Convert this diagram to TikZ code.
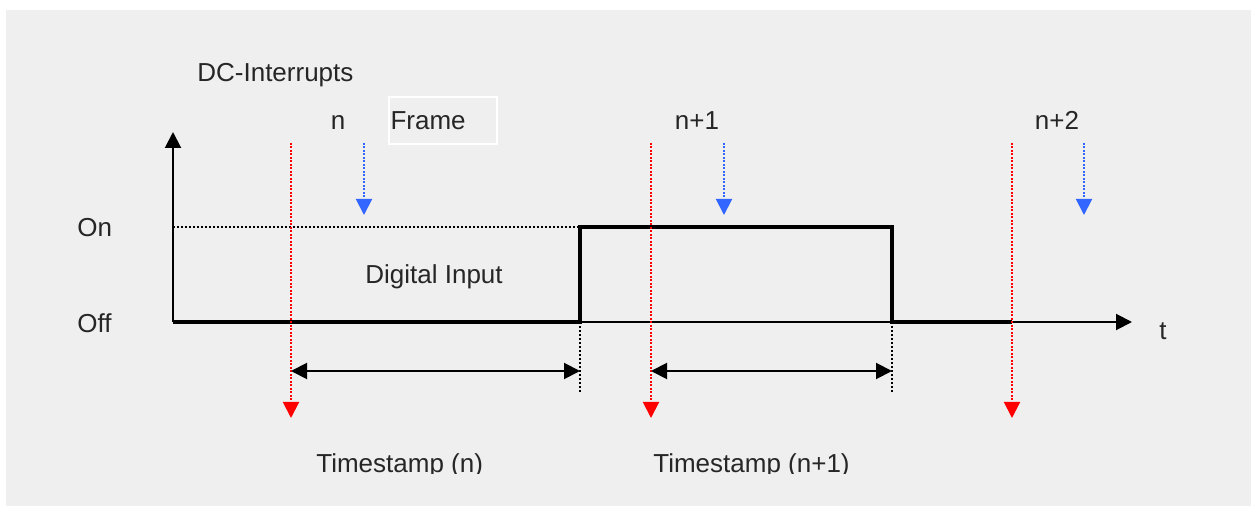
\documentclass[tikz,border=0pt]{standalone}
\usepackage{fontspec}
\setmainfont{Liberation Sans}
\usetikzlibrary{arrows.meta}
\definecolor{bggray}{HTML}{EFEFEF}
\definecolor{irqblue}{HTML}{3366FF}
\definecolor{txtgray}{HTML}{262626}

\begin{document}
\begin{tikzpicture}[x=0.2mm,y=-0.2mm,
  every node/.style={font=\fontsize{14.8}{17}\selectfont,text=txtgray,inner sep=0pt},
  axis/.style={line width=0.4mm,-{Triangle[width=3.2mm,length=3.2mm]}},
  signal/.style={line width=0.7mm},
  irq/.style={red,line width=0.4mm,dash pattern=on 0.4mm off 0.3mm,-{Triangle[width=3.2mm,length=3.2mm]}},
  frm/.style={irqblue,line width=0.4mm,dash pattern=on 0.4mm off 0.3mm,-{Triangle[width=3.2mm,length=3.2mm]}},
  span/.style={line width=0.4mm,{Triangle[width=3.2mm,length=3.2mm]}-{Triangle[width=3.2mm,length=3.2mm]}},
  edgemark/.style={line width=0.4mm,dash pattern=on 0.4mm off 0.4mm},
  fbox/.style={draw=white,line width=0.4mm,minimum width=21.6mm,minimum height=9.4mm,text width=21mm,inner sep=0.3mm,align=left}]
\useasboundingbox (0,0) rectangle (1251,506);
\fill[bggray] (6,10) rectangle (1251,506);

% axes
\coordinate (O) at (173,322);
\coordinate (ytop) at (173,132);
\coordinate (xend) at (1132,322);
\coordinate (on) at (173,227);
\draw[axis] (O) -- (ytop);
\draw[axis] (O) -- (xend);
\node[anchor=base west] (lblon) at (77,237) {On};
\node[anchor=base west] (lbloff) at (77,333) {Off};
\node[anchor=base] (lblt) at (1163,340) {t};
\node[anchor=base west] (lbldc) at (197,82) {DC-Interrupts};

% digital input
\coordinate (rise) at (580,322);
\coordinate (fall) at (892,322);
\coordinate (sigend) at (1012,322);
\draw[edgemark] (on) -- (rise |- on);
\draw[signal] (O) -- (rise) -- (rise |- on) -- (fall |- on) -- (fall) -- (sigend);
\node[anchor=base west] (lbldi) at (365,284) {Digital Input};

% interrupts
\foreach \x/\n in {291/a,651/b,1012/c}{
  \coordinate (irq\n top) at (\x,143);
  \coordinate (irq\n bot) at (\x,418);
  \draw[irq] (irq\n top) -- (irq\n bot);
}
\foreach \x/\n in {364/a,724/b,1084/c}{
  \coordinate (frm\n top) at (\x,143);
  \coordinate (frm\n bot) at (\x,215);
  \draw[frm] (frm\n top) -- (frm\n bot);
}
\node[anchor=base] (lbln) at (338,130) {n};
\node[anchor=base] (lblna) at (697,130) {n+1};
\node[anchor=base] (lblnb) at (1057,130) {n+2};
\node[fbox,anchor=north west] (frame) at (388,96) {Frame};

% timestamps
\coordinate (risebot) at (580,393);
\coordinate (fallbot) at (892,393);
\draw[edgemark] (rise) -- (risebot);
\draw[edgemark] (fall) -- (fallbot);
\coordinate (spana) at (291,371);
\coordinate (spanb) at (651,371);
\draw[span] (spana) -- (spana -| rise);
\draw[span] (spanb) -- (spanb -| fall);
\begin{scope}
  \clip (0,0) rectangle (1251,473);
  \node[anchor=base west] (tsa) at (316,472) {Timestamp (n)};
  \node[anchor=base west] (tsb) at (653,472) {Timestamp (n+1)};
\end{scope}
\end{tikzpicture}
\end{document}
